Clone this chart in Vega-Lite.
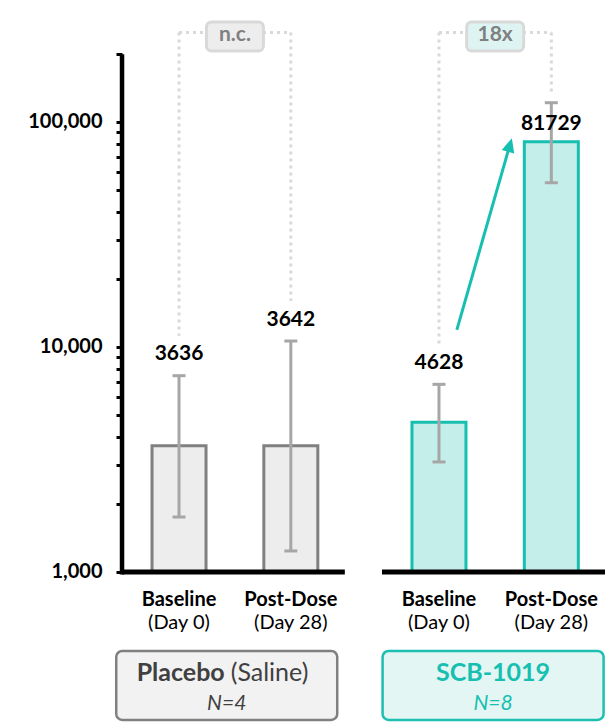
{
  "$schema": "https://vega.github.io/schema/vega-lite/v6.json",
  "width": 483,
  "height": 722,
  "autosize": {"type": "none"},
  "padding": {"left": 122, "top": 0, "right": 0, "bottom": 0},
  "config": {"view": {"stroke": null}, "font": "Lato",
    "axisY": {"domain": false, "grid": false, "tickSize": 6, "tickWidth": 3, "tickColor": "black", "labelFont": "Lato", "labelFontSize": 20, "labelFontWeight": "bold", "labelColor": "black", "labelPadding": 14}},
  "datasets": {
    "bars": [
      {"group": "Placebo", "cond": "Baseline", "day": "(Day 0)", "pos": 1, "gmean": 3636, "lo": 1755, "hi": 7455, "floor": 1000, "bracket": 250000, "label": "3636", "labelAt": "error", "cmp": "n.c."},
      {"group": "Placebo", "cond": "Post-Dose", "day": "(Day 28)", "pos": 2, "gmean": 3642, "lo": 1240, "hi": 10630, "floor": 1000, "bracket": 250000, "label": "3642", "labelAt": "error", "cmp": "n.c."},
      {"group": "SCB-1019", "cond": "Baseline", "day": "(Day 0)", "pos": 3.325, "gmean": 4628, "lo": 3084, "hi": 6823, "floor": 1000, "bracket": 250000, "label": "4628", "labelAt": "error", "cmp": "18x"},
      {"group": "SCB-1019", "cond": "Post-Dose", "day": "(Day 28)", "pos": 4.33, "gmean": 81729, "lo": 53700, "hi": 121800, "floor": 1000, "bracket": 250000, "label": "81729", "labelAt": "bar", "cmp": "18x"}
    ],
    "groups": [
      {"group": "Placebo", "gx": 1.4267, "floor": 1000, "title": "Placebo", "note": "(Saline)", "n": "N=4"},
      {"group": "SCB-1019", "gx": 3.809, "floor": 1000, "title": "SCB-1019", "note": "", "n": "N=8"}
    ]
  },
  "data": {"name": "bars"},
  "layer": [
    {
      "mark": {"type": "bar", "size": 54, "strokeWidth": 3},
      "encoding": {
        "x": {"field": "pos", "type": "quantitative", "stack": null, "scale": {"type": "linear", "domain": [0.49, 4.81], "nice": false, "zero": false, "padding": 0}, "axis": null},
        "y": {"field": "gmean", "type": "quantitative", "stack": null, "scale": {"type": "log", "domain": [215.443, 348445], "nice": false, "padding": 0},
          "axis": {"title": null, "values": [1000, 2000, 3000, 4000, 5000, 6000, 7000, 8000, 9000, 10000, 20000, 30000, 40000, 50000, 60000, 70000, 80000, 90000, 100000, 200000], "labelExpr": "datum.value == 1000 || datum.value == 10000 || datum.value == 100000 ? format(datum.value, ',') : ''"}},
        "y2": {"field": "floor"},
        "fill": {"condition": {"test": "datum.group == 'Placebo'", "value": "#ededed"}, "value": "#c4eeea"},
        "stroke": {"condition": {"test": "datum.group == 'Placebo'", "value": "#808080"}, "value": "#17bfb0"}
      }
    },
    {
      "data": {"name": "groups"},
      "mark": {"type": "point", "size": 4, "filled": true, "opacity": 1, "strokeWidth": 2.5,
        "shape": "M-104.5,79 H104.5 A6,6 0 0 1 110.5,85 V142 A6,6 0 0 1 104.5,148 H-104.5 A6,6 0 0 1 -110.5,142 V85 A6,6 0 0 1 -104.5,79 Z"},
      "encoding": {
        "x": {"field": "gx", "type": "quantitative", "axis": null},
        "y": {"field": "floor", "type": "quantitative", "axis": {"title": null, "values": [1000, 2000, 3000, 4000, 5000, 6000, 7000, 8000, 9000, 10000, 20000, 30000, 40000, 50000, 60000, 70000, 80000, 90000, 100000, 200000], "labelExpr": "datum.value == 1000 || datum.value == 10000 || datum.value == 100000 ? format(datum.value, ',') : ''"}},
        "fill": {"condition": {"test": "datum.group == 'Placebo'", "value": "#f2f2f2"}, "value": "#e3f6f4"},
        "stroke": {"condition": {"test": "datum.group == 'Placebo'", "value": "#808080"}, "value": "#1dbfb1"}
      }
    },
    {
      "transform": [{"aggregate": [{"op": "min", "field": "pos", "as": "p0"}, {"op": "max", "field": "pos", "as": "p1"}], "groupby": ["group", "floor"]}],
      "mark": {"type": "rule", "strokeWidth": 5, "color": "black", "xOffset": -57, "x2Offset": 54},
      "encoding": {
        "x": {"field": "p0", "type": "quantitative", "axis": null},
        "x2": {"field": "p1"},
        "y": {"field": "floor", "type": "quantitative", "axis": {"title": null, "values": [1000, 2000, 3000, 4000, 5000, 6000, 7000, 8000, 9000, 10000, 20000, 30000, 40000, 50000, 60000, 70000, 80000, 90000, 100000, 200000], "labelExpr": "datum.value == 1000 || datum.value == 10000 || datum.value == 100000 ? format(datum.value, ',') : ''"}}
      }
    },
    {
      "transform": [{"aggregate": [{"op": "min", "field": "pos", "as": "p0"}], "groupby": ["floor"]}],
      "mark": {"type": "point", "size": 4, "filled": false, "opacity": 1, "color": "black", "strokeWidth": 4.5, "strokeCap": "butt", "shape": "M-57,2.5 V-517.7"},
      "encoding": {
        "x": {"field": "p0", "type": "quantitative", "axis": null},
        "y": {"field": "floor", "type": "quantitative", "axis": {"title": null, "values": [1000, 2000, 3000, 4000, 5000, 6000, 7000, 8000, 9000, 10000, 20000, 30000, 40000, 50000, 60000, 70000, 80000, 90000, 100000, 200000], "labelExpr": "datum.value == 1000 || datum.value == 10000 || datum.value == 100000 ? format(datum.value, ',') : ''"}}
      }
    },
    {
      "mark": {"type": "rule", "strokeWidth": 3, "color": "#a6a6a6"},
      "encoding": {
        "x": {"field": "pos", "type": "quantitative", "axis": null},
        "y": {"field": "lo", "type": "quantitative", "axis": {"title": null, "values": [1000, 2000, 3000, 4000, 5000, 6000, 7000, 8000, 9000, 10000, 20000, 30000, 40000, 50000, 60000, 70000, 80000, 90000, 100000, 200000], "labelExpr": "datum.value == 1000 || datum.value == 10000 || datum.value == 100000 ? format(datum.value, ',') : ''"}},
        "y2": {"field": "hi"}
      }
    },
    {
      "transform": [{"fold": ["lo", "hi"], "as": ["end", "v"]}],
      "mark": {"type": "point", "shape": "stroke", "size": 169, "strokeWidth": 3, "filled": false, "color": "#a6a6a6", "opacity": 1},
      "encoding": {
        "x": {"field": "pos", "type": "quantitative", "axis": null},
        "y": {"field": "v", "type": "quantitative", "axis": {"title": null, "values": [1000, 2000, 3000, 4000, 5000, 6000, 7000, 8000, 9000, 10000, 20000, 30000, 40000, 50000, 60000, 70000, 80000, 90000, 100000, 200000], "labelExpr": "datum.value == 1000 || datum.value == 10000 || datum.value == 100000 ? format(datum.value, ',') : ''"}}
      }
    },
    {
      "transform": [{"filter": "datum.labelAt == 'error'"}],
      "mark": {"type": "rule", "strokeWidth": 3, "color": "#d9d9d9", "strokeDash": [3, 4], "y2Offset": -40},
      "encoding": {
        "x": {"field": "pos", "type": "quantitative", "axis": null},
        "y": {"field": "bracket", "type": "quantitative", "axis": {"title": null, "values": [1000, 2000, 3000, 4000, 5000, 6000, 7000, 8000, 9000, 10000, 20000, 30000, 40000, 50000, 60000, 70000, 80000, 90000, 100000, 200000], "labelExpr": "datum.value == 1000 || datum.value == 10000 || datum.value == 100000 ? format(datum.value, ',') : ''"}},
        "y2": {"field": "hi"}
      }
    },
    {
      "transform": [{"filter": "datum.labelAt == 'bar'"}],
      "mark": {"type": "rule", "strokeWidth": 3, "color": "#d9d9d9", "strokeDash": [3, 4], "y2Offset": -11},
      "encoding": {
        "x": {"field": "pos", "type": "quantitative", "axis": null},
        "y": {"field": "bracket", "type": "quantitative", "axis": {"title": null, "values": [1000, 2000, 3000, 4000, 5000, 6000, 7000, 8000, 9000, 10000, 20000, 30000, 40000, 50000, 60000, 70000, 80000, 90000, 100000, 200000], "labelExpr": "datum.value == 1000 || datum.value == 10000 || datum.value == 100000 ? format(datum.value, ',') : ''"}},
        "y2": {"field": "hi"}
      }
    },
    {
      "transform": [{"aggregate": [{"op": "min", "field": "pos", "as": "p0"}, {"op": "max", "field": "pos", "as": "p1"}], "groupby": ["group", "bracket"]}],
      "mark": {"type": "rule", "strokeWidth": 3, "color": "#d9d9d9", "strokeDash": [3, 4]},
      "encoding": {
        "x": {"field": "p0", "type": "quantitative", "axis": null},
        "x2": {"field": "p1"},
        "y": {"field": "bracket", "type": "quantitative", "axis": {"title": null, "values": [1000, 2000, 3000, 4000, 5000, 6000, 7000, 8000, 9000, 10000, 20000, 30000, 40000, 50000, 60000, 70000, 80000, 90000, 100000, 200000], "labelExpr": "datum.value == 1000 || datum.value == 10000 || datum.value == 100000 ? format(datum.value, ',') : ''"}}
      }
    },
    {
      "transform": [{"aggregate": [{"op": "mean", "field": "pos", "as": "pm"}], "groupby": ["group", "cmp", "bracket"]}],
      "mark": {"type": "point", "size": 4, "filled": true, "opacity": 1, "strokeWidth": 3, "stroke": "#d9d9d9",
        "shape": "M-23.5,-10.5 H23.5 A5,5 0 0 1 28.5,-5.5 V13.5 A5,5 0 0 1 23.5,18.5 H-23.5 A5,5 0 0 1 -28.5,13.5 V-5.5 A5,5 0 0 1 -23.5,-10.5 Z"},
      "encoding": {
        "x": {"field": "pm", "type": "quantitative", "axis": null},
        "y": {"field": "bracket", "type": "quantitative", "axis": {"title": null, "values": [1000, 2000, 3000, 4000, 5000, 6000, 7000, 8000, 9000, 10000, 20000, 30000, 40000, 50000, 60000, 70000, 80000, 90000, 100000, 200000], "labelExpr": "datum.value == 1000 || datum.value == 10000 || datum.value == 100000 ? format(datum.value, ',') : ''"}},
        "fill": {"condition": {"test": "datum.group == 'Placebo'", "value": "#ededed"}, "value": "#ddf4f2"}
      }
    },
    {
      "transform": [{"aggregate": [{"op": "mean", "field": "pos", "as": "pm"}], "groupby": ["group", "cmp", "bracket"]}],
      "mark": {"type": "text", "fontSize": 21, "fontWeight": "bold", "color": "#808080", "baseline": "middle", "dy": 3},
      "encoding": {
        "x": {"field": "pm", "type": "quantitative", "axis": null},
        "y": {"field": "bracket", "type": "quantitative", "axis": {"title": null, "values": [1000, 2000, 3000, 4000, 5000, 6000, 7000, 8000, 9000, 10000, 20000, 30000, 40000, 50000, 60000, 70000, 80000, 90000, 100000, 200000], "labelExpr": "datum.value == 1000 || datum.value == 10000 || datum.value == 100000 ? format(datum.value, ',') : ''"}},
        "text": {"field": "cmp"}
      }
    },
    {
      "transform": [{"filter": "datum.labelAt == 'bar'"}],
      "mark": {"type": "point", "size": 4, "filled": false, "opacity": 1, "color": "#17bfb0", "strokeWidth": 3, "shape": "M-94.5,188.2 L-42.8,8"},
      "encoding": {
        "x": {"field": "pos", "type": "quantitative", "axis": null},
        "y": {"field": "gmean", "type": "quantitative", "axis": {"title": null, "values": [1000, 2000, 3000, 4000, 5000, 6000, 7000, 8000, 9000, 10000, 20000, 30000, 40000, 50000, 60000, 70000, 80000, 90000, 100000, 200000], "labelExpr": "datum.value == 1000 || datum.value == 10000 || datum.value == 100000 ? format(datum.value, ',') : ''"}}
      }
    },
    {
      "transform": [{"filter": "datum.labelAt == 'bar'"}],
      "mark": {"type": "point", "size": 4, "filled": true, "opacity": 1, "color": "#17bfb0", "shape": "M-39.5,-3.5 L-37.1,11.7 L-49.6,8.2 Z"},
      "encoding": {
        "x": {"field": "pos", "type": "quantitative", "axis": null},
        "y": {"field": "gmean", "type": "quantitative", "axis": {"title": null, "values": [1000, 2000, 3000, 4000, 5000, 6000, 7000, 8000, 9000, 10000, 20000, 30000, 40000, 50000, 60000, 70000, 80000, 90000, 100000, 200000], "labelExpr": "datum.value == 1000 || datum.value == 10000 || datum.value == 100000 ? format(datum.value, ',') : ''"}}
      }
    },
    {
      "transform": [{"filter": "datum.labelAt == 'error'"}],
      "mark": {"type": "text", "fontSize": 21, "fontWeight": "bold", "color": "black", "baseline": "middle", "dy": -21.5},
      "encoding": {
        "x": {"field": "pos", "type": "quantitative", "axis": null},
        "y": {"field": "hi", "type": "quantitative", "axis": {"title": null, "values": [1000, 2000, 3000, 4000, 5000, 6000, 7000, 8000, 9000, 10000, 20000, 30000, 40000, 50000, 60000, 70000, 80000, 90000, 100000, 200000], "labelExpr": "datum.value == 1000 || datum.value == 10000 || datum.value == 100000 ? format(datum.value, ',') : ''"}},
        "text": {"field": "label"}
      }
    },
    {
      "transform": [{"filter": "datum.labelAt == 'bar'"}],
      "mark": {"type": "text", "fontSize": 21, "fontWeight": "bold", "color": "black", "baseline": "middle", "dy": -18},
      "encoding": {
        "x": {"field": "pos", "type": "quantitative", "axis": null},
        "y": {"field": "gmean", "type": "quantitative", "axis": {"title": null, "values": [1000, 2000, 3000, 4000, 5000, 6000, 7000, 8000, 9000, 10000, 20000, 30000, 40000, 50000, 60000, 70000, 80000, 90000, 100000, 200000], "labelExpr": "datum.value == 1000 || datum.value == 10000 || datum.value == 100000 ? format(datum.value, ',') : ''"}},
        "text": {"field": "label"}
      }
    },
    {
      "mark": {"type": "text", "fontSize": 20, "fontWeight": "bold", "color": "black", "baseline": "middle", "dy": 28},
      "encoding": {
        "x": {"field": "pos", "type": "quantitative", "axis": null},
        "y": {"field": "floor", "type": "quantitative", "axis": {"title": null, "values": [1000, 2000, 3000, 4000, 5000, 6000, 7000, 8000, 9000, 10000, 20000, 30000, 40000, 50000, 60000, 70000, 80000, 90000, 100000, 200000], "labelExpr": "datum.value == 1000 || datum.value == 10000 || datum.value == 100000 ? format(datum.value, ',') : ''"}},
        "text": {"field": "cond"}
      }
    },
    {
      "mark": {"type": "text", "fontSize": 20, "color": "black", "baseline": "middle", "dy": 51},
      "encoding": {
        "x": {"field": "pos", "type": "quantitative", "axis": null},
        "y": {"field": "floor", "type": "quantitative", "axis": {"title": null, "values": [1000, 2000, 3000, 4000, 5000, 6000, 7000, 8000, 9000, 10000, 20000, 30000, 40000, 50000, 60000, 70000, 80000, 90000, 100000, 200000], "labelExpr": "datum.value == 1000 || datum.value == 10000 || datum.value == 100000 ? format(datum.value, ',') : ''"}},
        "text": {"field": "day"}
      }
    },
    {
      "data": {"name": "groups"},
      "transform": [{"filter": "datum.note != ''"}],
      "mark": {"type": "text", "fontSize": 25, "fontWeight": "bold", "color": "#404040", "baseline": "middle", "align": "right", "dx": -2, "dy": 101},
      "encoding": {
        "x": {"field": "gx", "type": "quantitative", "axis": null},
        "y": {"field": "floor", "type": "quantitative", "axis": {"title": null, "values": [1000, 2000, 3000, 4000, 5000, 6000, 7000, 8000, 9000, 10000, 20000, 30000, 40000, 50000, 60000, 70000, 80000, 90000, 100000, 200000], "labelExpr": "datum.value == 1000 || datum.value == 10000 || datum.value == 100000 ? format(datum.value, ',') : ''"}},
        "text": {"field": "title"}
      }
    },
    {
      "data": {"name": "groups"},
      "transform": [{"filter": "datum.note != ''"}],
      "mark": {"type": "text", "fontSize": 25, "color": "#404040", "baseline": "middle", "align": "left", "dx": 4, "dy": 101},
      "encoding": {
        "x": {"field": "gx", "type": "quantitative", "axis": null},
        "y": {"field": "floor", "type": "quantitative", "axis": {"title": null, "values": [1000, 2000, 3000, 4000, 5000, 6000, 7000, 8000, 9000, 10000, 20000, 30000, 40000, 50000, 60000, 70000, 80000, 90000, 100000, 200000], "labelExpr": "datum.value == 1000 || datum.value == 10000 || datum.value == 100000 ? format(datum.value, ',') : ''"}},
        "text": {"field": "note"}
      }
    },
    {
      "data": {"name": "groups"},
      "transform": [{"filter": "datum.note == ''"}],
      "mark": {"type": "text", "fontSize": 25, "fontWeight": "bold", "color": "#17bfb0", "baseline": "middle", "align": "center", "dy": 101},
      "encoding": {
        "x": {"field": "gx", "type": "quantitative", "axis": null},
        "y": {"field": "floor", "type": "quantitative", "axis": {"title": null, "values": [1000, 2000, 3000, 4000, 5000, 6000, 7000, 8000, 9000, 10000, 20000, 30000, 40000, 50000, 60000, 70000, 80000, 90000, 100000, 200000], "labelExpr": "datum.value == 1000 || datum.value == 10000 || datum.value == 100000 ? format(datum.value, ',') : ''"}},
        "text": {"field": "title"}
      }
    },
    {
      "data": {"name": "groups"},
      "mark": {"type": "text", "fontSize": 21, "fontStyle": "italic", "baseline": "middle", "align": "center", "dy": 132},
      "encoding": {
        "x": {"field": "gx", "type": "quantitative", "axis": null},
        "y": {"field": "floor", "type": "quantitative", "axis": {"title": null, "values": [1000, 2000, 3000, 4000, 5000, 6000, 7000, 8000, 9000, 10000, 20000, 30000, 40000, 50000, 60000, 70000, 80000, 90000, 100000, 200000], "labelExpr": "datum.value == 1000 || datum.value == 10000 || datum.value == 100000 ? format(datum.value, ',') : ''"}},
        "text": {"field": "n"},
        "color": {"condition": {"test": "datum.group == 'Placebo'", "value": "#404040"}, "value": "#17bfb0"}
      }
    }
  ]
}
